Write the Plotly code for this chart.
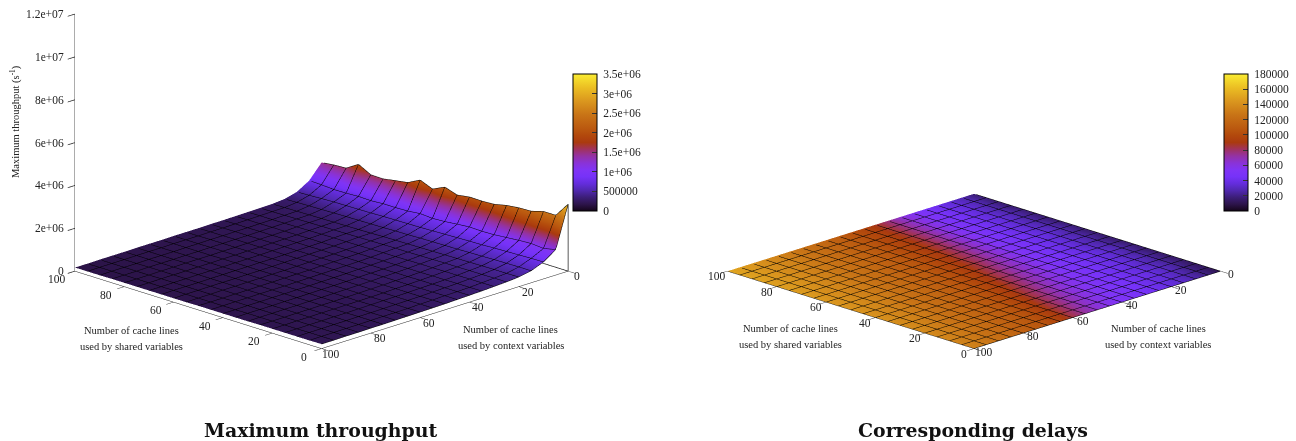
import plotly.graph_objects as go

shared_lines = [0,5,10,15,20,25,30,35,40,45,50,55,60,65,70,75,80,85,90,95,100]
context_lines = [0,5,10,15,20,25,30,35,40,45,50,55,60,65,70,75,80,85,90,95,100]

# maximum throughput, millions per second; rows: context lines, columns: shared lines
throughput_millions = [
[3.13,2.43,2.43,2.26,2.24,2.17,2.04,2.01,2.02,1.93,2.12,1.85,2.09,1.79,1.70,1.60,1.61,1.92,1.56,1.53,1.46],
[1.19,1.06,1.11,1.08,1.03,.98,.96,.98,.93,.87,.84,.88,.82,.80,.80,.76,.78,.75,.74,.78,.80],
[.79,.78,.76,.74,.72,.69,.68,.66,.64,.62,.60,.59,.58,.57,.55,.54,.53,.52,.50,.47,.45],
[.56,.56,.55,.54,.52,.51,.49,.48,.47,.46,.44,.43,.41,.40,.39,.38,.37,.35,.34,.32,.30],
[.45,.44,.44,.43,.42,.41,.40,.39,.38,.37,.36,.35,.33,.32,.31,.30,.29,.28,.27,.26,.25],
[.40,.40,.39,.39,.38,.38,.37,.36,.35,.35,.34,.33,.32,.31,.30,.29,.28,.27,.26,.25,.24],
[.37,.36,.36,.35,.35,.34,.34,.33,.32,.32,.31,.30,.29,.29,.28,.27,.26,.25,.24,.24,.23],
[.34,.33,.33,.32,.32,.31,.31,.30,.30,.29,.28,.28,.27,.26,.26,.25,.24,.24,.23,.23,.22],
[.32,.31,.31,.30,.30,.29,.29,.28,.28,.27,.27,.26,.26,.25,.25,.24,.23,.23,.22,.22,.21],
[.30,.30,.29,.29,.28,.28,.28,.27,.27,.26,.26,.25,.25,.24,.24,.23,.23,.22,.22,.21,.21],
[.28,.28,.27,.27,.27,.26,.26,.26,.25,.25,.25,.24,.24,.23,.23,.22,.22,.22,.21,.21,.20],
[.27,.27,.26,.26,.25,.25,.25,.24,.24,.24,.23,.23,.23,.22,.22,.22,.21,.21,.21,.20,.20],
[.26,.25,.25,.25,.24,.24,.24,.23,.23,.23,.23,.22,.22,.22,.21,.21,.21,.21,.20,.20,.20],
[.25,.24,.24,.24,.23,.23,.23,.23,.22,.22,.22,.22,.21,.21,.21,.21,.20,.20,.20,.20,.19],
[.24,.24,.23,.23,.23,.22,.22,.22,.22,.21,.21,.21,.21,.21,.20,.20,.20,.20,.19,.19,.19],
[.23,.23,.23,.22,.22,.22,.22,.21,.21,.21,.21,.21,.20,.20,.20,.20,.20,.19,.19,.19,.19],
[.23,.22,.22,.22,.22,.21,.21,.21,.21,.21,.20,.20,.20,.20,.20,.19,.19,.19,.19,.19,.18],
[.22,.22,.22,.21,.21,.21,.21,.20,.20,.20,.20,.20,.20,.19,.19,.19,.19,.19,.18,.18,.18],
[.22,.21,.21,.21,.21,.20,.20,.20,.20,.20,.19,.19,.19,.19,.19,.19,.18,.18,.18,.18,.18],
[.21,.21,.21,.20,.20,.20,.20,.20,.19,.19,.19,.19,.19,.19,.18,.18,.18,.18,.18,.18,.17],
[.21,.20,.20,.20,.20,.20,.19,.19,.19,.19,.19,.18,.18,.18,.18,.18,.18,.18,.17,.17,.17],
]

# corresponding delays, thousands; same layout
delay_thousands = [
[10,12,13,15,14,16,15,17,16,15,17,16,18,17,16,17,18,16,17,18,17],
[20,21,22,24,23,25,24,26,25,24,26,25,27,26,25,26,27,26,27,28,27],
[27,28,30,31,30,32,31,33,32,31,33,32,34,33,33,34,35,34,35,35,34],
[33,34,36,37,36,38,37,39,38,38,39,38,40,40,39,40,41,41,42,41,41],
[37,38,40,41,40,42,42,43,43,42,44,44,45,45,45,46,46,47,47,47,46],
[42,43,44,45,45,46,47,47,48,48,49,50,50,51,52,52,53,54,54,55,55],
[46,47,48,49,50,51,52,52,53,54,55,56,57,58,59,60,61,62,63,64,64],
[50,51,52,53,54,56,57,58,60,61,63,65,66,68,70,71,73,74,75,76,77],
[53,55,56,58,59,61,63,65,67,70,72,75,77,79,81,83,84,85,86,87,88],
[58,60,62,64,66,69,71,74,77,79,82,85,86,88,90,91,93,94,95,96,97],
[65,67,70,73,75,78,81,84,86,88,91,93,95,96,98,99,100,101,102,103,104],
[74,77,80,82,85,87,90,93,95,97,99,101,102,104,105,106,107,108,109,110,111],
[85,88,90,92,95,97,99,101,103,105,106,108,109,110,111,112,113,114,115,116,116],
[97,99,100,102,104,105,107,108,110,111,112,113,114,115,116,117,118,119,119,120,121],
[105,106,108,109,110,112,112,114,115,116,117,118,119,120,121,122,122,123,124,125,125],
[110,111,113,114,115,116,117,119,120,120,122,122,123,124,125,126,127,128,128,129,130],
[115,116,118,119,120,121,122,123,124,125,126,127,128,129,129,130,131,132,133,134,134],
[120,121,122,124,124,126,126,128,129,129,131,131,132,133,134,135,135,136,137,138,138],
[125,126,127,128,129,130,131,132,133,134,135,136,136,137,138,139,140,140,141,142,143],
[130,131,131,133,133,135,135,137,137,138,139,140,141,141,142,143,144,145,146,146,147],
[134,135,136,137,138,139,140,141,142,143,143,144,145,146,147,147,148,149,150,150,151],
]

axis_ticks = [0,20,40,60,80,100]
z_ticks = [0,2e6,4e6,6e6,8e6,10e6,12e6]
z_labels = ["0","2e+06","4e+06","6e+06","8e+06","1e+07","1.2e+07"]
cb1_ticks = [0,5e5,1e6,1.5e6,2e6,2.5e6,3e6,3.5e6]
cb1_labels = ["0","500000","1e+06","1.5e+06","2e+06","2.5e+06","3e+06","3.5e+06"]
cb2_ticks = [0,20000,40000,60000,80000,100000,120000,140000,160000,180000]
cb2_labels = [str(v) for v in cb2_ticks]

FONT = "Liberation Serif"
INK = "#222222"

palette_stops = [
    [0, "rgb(20,5,25)"], [.05, "rgb(45,20,75)"], [.1, "rgb(60,30,120)"], [.15, "rgb(80,40,175)"],
    [.2, "rgb(100,45,220)"], [.25, "rgb(118,50,248)"], [.3, "rgb(128,52,245)"], [.35, "rgb(138,50,215)"],
    [.4, "rgb(148,50,165)"], [.45, "rgb(160,50,95)"], [.5, "rgb(170,58,15)"], [.55, "rgb(178,72,12)"],
    [.6, "rgb(186,88,15)"], [.7, "rgb(200,115,22)"], [.8, "rgb(218,150,30)"], [.9, "rgb(235,190,35)"],
    [1, "rgb(250,236,50)"],
]

throughput = [[v * 1e6 for v in row] for row in throughput_millions]
delays = [[v * 1e3 for v in row] for row in delay_thousands]
flat = [[0 for _ in shared_lines] for _ in context_lines]

contour = dict(show=True, start=0, end=100, size=5, color="#000000", width=2, highlight=False)
no_light = dict(ambient=1, diffuse=0, specular=0, roughness=1, fresnel=0)

def colorbar(x, ticks, labels):
    return dict(x=x, xanchor="left", y=1-74/441, yanchor="top", len=137, lenmode="pixels",
                thickness=24, thicknessmode="pixels", outlinecolor="#000", outlinewidth=1,
                tickvals=ticks, ticktext=["\u00a0" + t for t in labels], ticks="inside", ticklen=5, tickcolor="#333",
                tickfont=dict(family=FONT, size=11.5, color=INK), xpad=0, ypad=0)

fig = go.Figure()
fig.add_trace(go.Surface(x=shared_lines, y=context_lines, z=throughput, surfacecolor=throughput,
    cmin=0, cmax=3.5e6, colorscale=palette_stops, lighting=no_light, hoverinfo="skip",
    contours=dict(x=contour, y=contour), colorbar=colorbar(573/1296, cb1_ticks, cb1_labels), scene="scene"))
fig.add_trace(go.Surface(x=shared_lines, y=context_lines, z=flat, surfacecolor=delays,
    cmin=0, cmax=180000, colorscale=palette_stops, lighting=no_light, hoverinfo="skip",
    contours=dict(x=contour, y=contour), colorbar=colorbar(1224/1296, cb2_ticks, cb2_labels), scene="scene2"))
# box edges of the 3-D frame that show behind the surface at the far corner
fig.add_trace(go.Scatter3d(x=[100,0,0], y=[0,0,0], z=[0,0,throughput[0][0]], mode="lines",
    line=dict(color="#222222", width=1.5), hoverinfo="skip", showlegend=False, scene="scene"))

def axis(ticks, visible=True, rng=(0,100), tick_dir="outside", tick_len=10):
    return dict(range=list(rng), autorange=False, title=dict(text=""), showgrid=False, zeroline=False,
             showbackground=False, showspikes=False, visible=visible, showline=True, linecolor="#222", linewidth=1,
             ticks=tick_dir, ticklen=tick_len, tickwidth=1.5, tickcolor="#222", tickvals=ticks, showticklabels=False)

camera = dict(projection=dict(type="orthographic"), eye=dict(x=-2.0, y=2.0, z=0.563),
              center=dict(x=0, y=0, z=-0.372), up=dict(x=0, y=0, z=1))

def tick_text(text, x, y, z, xs, ys, anchor="center"):
    return dict(text=text, x=x, y=y, z=z, xshift=xs, yshift=ys, showarrow=False, xanchor=anchor, yanchor="middle",
                font=dict(family=FONT, size=11.5, color=INK))

left_ticks = ([tick_text(str(v), v, 100, 0, -18, -8) for v in axis_ticks]
              + [tick_text(str(v), 0, v, 0, 9, -5) for v in axis_ticks]
              + [tick_text(l, 100, 100, v, -9, 0, "right") for v, l in zip(z_ticks, z_labels)])
right_ticks = ([tick_text(str(v), v, 100, 0, -10, -5) for v in axis_ticks]
               + [tick_text(str(v), 0, v, 0, 10, -3) for v in axis_ticks])

aspect = dict(x=1.582, y=1.582, z=1.228)
fig.update_layout(
    width=1296, height=441, margin=dict(l=0, r=0, t=0, b=0), paper_bgcolor="white", showlegend=False,
    scene=dict(domain=dict(x=[0,0.5-5/1296], y=[0,1]), camera=camera, aspectmode="manual",
               aspectratio=aspect, annotations=left_ticks,
               xaxis=axis(axis_ticks), yaxis=axis(axis_ticks),
               zaxis=axis(z_ticks, rng=(0,1.2e7), tick_dir="inside", tick_len=6)),
    scene2=dict(domain=dict(x=[0.5+4/1296,1], y=[0,1]), camera=camera, aspectmode="manual",
               aspectratio=aspect, annotations=right_ticks,
               xaxis=axis(axis_ticks), yaxis=axis(axis_ticks), zaxis=axis(z_ticks, visible=False, rng=(0,1.2e7))),
)

def note(text, px, py, size=10.5, **kw):
    return dict(text=text, x=px/1296, y=1-py/441, xref="paper", yref="paper", showarrow=False,
                xanchor="center", yanchor="middle",
                font=dict(family=FONT, size=size, color=INK), align="center", **kw)

def title(text, px):
    return dict(text=f"<b>{text}</b>", x=px/1296, y=1-430/441, xref="paper", yref="paper", showarrow=False,
                xanchor="center", yanchor="middle", font=dict(family="DejaVu Serif", size=18.9, color="#111"))

fig.update_layout(annotations=[
    note("Number of cache lines", 131, 330), note("used by shared variables", 131, 346),
    note("Number of cache lines", 511, 329), note("used by context variables", 511, 345),
    note("Number of cache lines", 790, 328), note("used by shared variables", 790, 344),
    note("Number of cache lines", 1158, 328), note("used by context variables", 1158, 344),
    note("Maximum throughput (s<sup>-1</sup>)", 15, 122, textangle=-90),
    title("Maximum throughput", 320.5),
    title("Corresponding delays", 972.5),
])

fig.write_html("out.html", config=dict(displayModeBar=False),
               post_script="document.body.style.margin='0';document.documentElement.style.overflow='hidden';")
